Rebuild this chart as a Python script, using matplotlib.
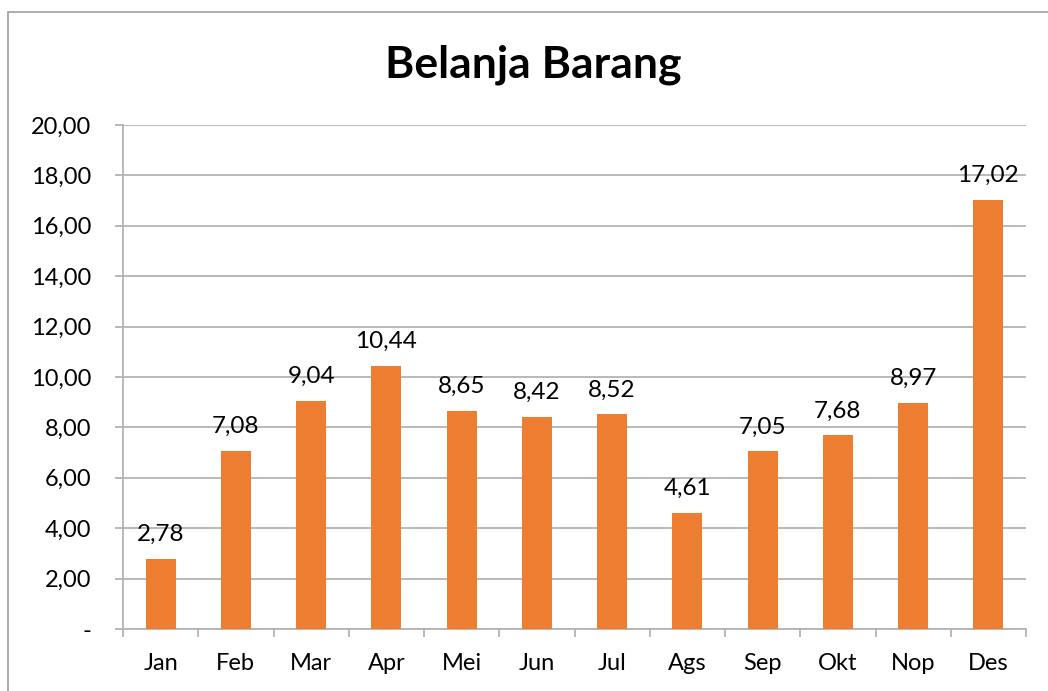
import matplotlib
matplotlib.use("Agg")
import matplotlib.pyplot as plt
from matplotlib.patches import Rectangle
import numpy as np

months = ["Jan", "Feb", "Mar", "Apr", "Mei", "Jun", "Jul", "Ags", "Sep", "Okt", "Nop", "Des"]
values = [2.78, 7.08, 9.04, 10.44, 8.65, 8.42, 8.52, 4.61, 7.05, 7.68, 8.97, 17.02]
yticks = [0, 2, 4, 6, 8, 10, 12, 14, 16, 18, 20]

plt.rcParams['font.family'] = ['Lato', 'DejaVu Sans']

BAR = '#ED7D31'
GRID = '#B3B3B3'

fig = plt.figure(figsize=(10.48, 6.91), dpi=100)
ax = fig.add_axes([123/1048, 1 - 629/691, (1026-123)/1048, (629-125)/691])

x = np.arange(len(months))
ax.bar(x, values, width=0.4, color=BAR, zorder=3)

for xi, v in zip(x, values):
    ax.annotate(f"{v:.2f}".replace(".", ","), (xi, v), xytext=(0, 10), textcoords='offset points',
                ha='center', va='bottom', fontsize=17.5, color='black')

ax.set_xlim(-0.5, len(months) - 0.5)
ax.set_ylim(0, 20)
ax.set_yticks(yticks)
ax.set_yticklabels(["-" if t == 0 else f"{t:.2f}".replace(".", ",") for t in yticks], fontsize=17)
ax.yaxis.grid(True, color=GRID, linewidth=1.3, zorder=0)
ax.tick_params(axis='y', length=6, width=1.3, color=GRID, pad=17)

# category ticks sit between bars, labels in the middle
ax.set_xticks(np.arange(-0.5, len(months)), minor=False)
ax.set_xticklabels([])
ax.set_xticks(x, minor=True)
ax.set_xticklabels(months, minor=True, fontsize=17)
ax.tick_params(axis='x', which='major', length=6, width=1.3, color=GRID)
ax.tick_params(axis='x', which='minor', length=0, pad=17)

for s in ['top', 'right']:
    ax.spines[s].set_visible(False)
for s in ['left', 'bottom']:
    ax.spines[s].set_color(GRID)
    ax.spines[s].set_linewidth(1.3)

fig.text(533/1048, 1 - 65/691, "Belanja Barang", ha='center', va='center',
         fontsize=32, fontweight='bold')

# chart border (cropped at right and bottom)
fig.patches.append(Rectangle((8/1048, -0.05), 1.2, 1.05 - 12/691,
                             transform=fig.transFigure, fill=False,
                             edgecolor='#A6A6A6', linewidth=1.3))

fig.savefig("out.png", dpi=100)
